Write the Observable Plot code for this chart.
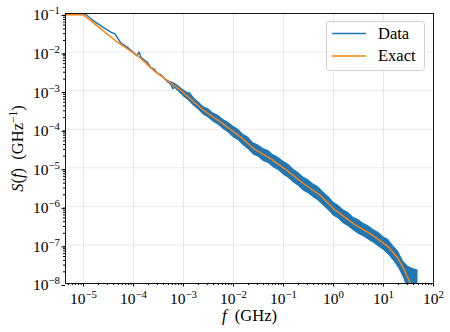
<!DOCTYPE html>
<html>
<head>
<meta charset="utf-8">
<script src="https://cdn.jsdelivr.net/npm/d3@7"></script>
<script src="https://cdn.jsdelivr.net/npm/@observablehq/plot@0.6"></script>
<style>
  html, body { margin: 0; padding: 0; background: #fff; }
</style>
</head>
<body>
<div id="chart"></div>
<script>
// ---- data ----
const seriesNames = ["Data", "Exact"];
const xLabel = "*f*\u2002(GHz)";
const yLabel = "*S*(*f*)\u2002(GHz^{−1})";
const xDomain = [4.37e-6, 100];
const yDomain = [1e-8, 1e-1];
const xTickExp = [-5, -4, -3, -2, -1, 0, 1, 2];
const yTickExp = [-8, -7, -6, -5, -4, -3, -2, -1];

// Exact spectrum (orange)
const exactF = [4.37e-6, 1.0e-5, 4.79e-5, 1.20e-4, 2.57e-4, 4.79e-4, 8.91e-4, 2.57e-3, 5.62e-3, 1.41e-2, 2.57e-2, 5.62e-2, 0.120, 0.257, 0.562, 1.0, 2.57, 5.62, 12.0, 19.1, 25.7, 33.9, 36.3];
const exactS = [0.0925, 0.0925, 0.0180, 8.13e-3, 3.31e-3, 1.82e-3, 1.0e-3, 3.02e-4, 1.51e-4, 6.17e-5, 3.09e-5, 1.70e-5, 8.32e-6, 3.80e-6, 1.86e-6, 8.71e-7, 3.47e-7, 1.91e-7, 9.33e-8, 4.68e-8, 2.34e-8, 1.05e-8, 8.9e-9];

// Measured data, sparse low-frequency part (blue line)
const dataF = [4.37e-6, 1.12e-5, 1.63e-5, 2.57e-5, 3.54e-5, 4.27e-5, 5.6e-5, 7.6e-5, 1.17e-4, 1.29e-4, 1.41e-4, 1.6e-4, 1.9e-4, 2.2e-4, 2.6e-4, 3.0e-4, 3.5e-4, 4.1e-4, 4.8e-4, 5.6e-4, 6.1e-4, 7.4e-4, 8.9e-4, 1.12e-3, 1.29e-3, 1.62e-3];
const dataS = [0.096, 0.094, 0.063, 0.0426, 0.0327, 0.0297, 0.0170, 0.0133, 0.0081, 0.0100, 0.0073, 0.0064, 0.0054, 0.0040, 0.0036, 0.0028, 0.0026, 0.0021, 0.0017, 1.45e-3, 1.12e-3, 1.35e-3, 1.0e-3, 6.9e-4, 8.9e-4, 6.2e-4];

// Measured data, dense high-frequency part: envelope of the noisy band
const bandF = [4.6e-4, 5.4e-4, 6.31e-4, 7.94e-4, 1.0e-3, 1.26e-3, 1.58e-3, 2.0e-3, 2.51e-3, 3.16e-3, 3.98e-3, 5.01e-3, 6.31e-3, 7.94e-3, 1.0e-2, 1.26e-2, 1.58e-2, 2.0e-2, 2.51e-2, 3.16e-2, 3.98e-2, 5.01e-2, 6.31e-2, 7.94e-2, 0.1, 0.126, 0.158, 0.2, 0.251, 0.316, 0.398, 0.501, 0.631, 0.794, 1.0, 1.26, 1.58, 2.0, 2.51, 3.16, 3.98, 5.01, 6.31, 7.94, 10, 12.6, 15.8, 20.0, 25.1, 31.6, 39.8, 49.0];
const bandHi = [1.90e-3, 1.75e-3, 1.62e-3, 1.349e-3, 1.047e-3, 8.71e-4, 6.457e-4, 5.248e-4, 3.89e-4, 3.388e-4, 2.63e-4, 2.291e-4, 1.778e-4, 1.514e-4, 1.202e-4, 1.0e-4, 7.413e-5, 6.166e-5, 4.467e-5, 3.89e-5, 3.162e-5, 2.818e-5, 2.188e-5, 1.862e-5, 1.479e-5, 1.23e-5, 9.333e-6, 7.586e-6, 5.754e-6, 4.898e-6, 3.802e-6, 3.236e-6, 2.344e-6, 1.82e-6, 1.288e-6, 1.072e-6, 8.128e-7, 6.918e-7, 5.248e-7, 4.571e-7, 3.631e-7, 3.162e-7, 2.512e-7, 2.138e-7, 1.622e-7, 1.38e-7, 9.55e-8, 6.761e-8, 3.802e-8, 2.754e-8, 2.399e-8, 2.239e-8];
const bandLo = [1.84e-3, 1.62e-3, 1.25e-3, 9.333e-4, 6.918e-4, 5.495e-4, 4.074e-4, 3.162e-4, 2.344e-4, 1.95e-4, 1.514e-4, 1.259e-4, 9.772e-5, 7.943e-5, 6.026e-5, 5.012e-5, 3.715e-5, 2.951e-5, 2.138e-5, 1.862e-5, 1.445e-5, 1.288e-5, 1.0e-5, 8.511e-6, 6.457e-6, 5.37e-6, 4.074e-6, 3.311e-6, 2.512e-6, 2.138e-6, 1.66e-6, 1.38e-6, 1.023e-6, 7.762e-7, 5.623e-7, 4.677e-7, 3.548e-7, 2.951e-7, 2.344e-7, 1.905e-7, 1.622e-7, 1.349e-7, 1.122e-7, 8.913e-8, 7.244e-8, 5.495e-8, 3.89e-8, 2.512e-8, 1.413e-8, 6.31e-9, 3.162e-9, 3.162e-9];

// ---- styling ----
const BLUE = "#1f77b4", ORANGE = "#ff7f0e";
const FONT = "'Liberation Serif', 'DejaVu Serif', serif";
const FS = 15.5;      // tick labels
const FS_L = 16.5;    // axis labels and legend

const exact = exactF.map((f, i) => ({f, s: exactS[i]}));
const data = dataF.map((f, i) => ({f, s: dataS[i]}));
const band = bandF.map((f, i) => ({f, lo: bandLo[i], hi: bandHi[i]}));

const xMajor = xTickExp.map(e => Math.pow(10, e));
const yMajor = yTickExp.map(e => Math.pow(10, e));
const minorsIn = (dom, eLo, eHi) => {
  const out = [];
  for (let e = eLo; e <= eHi; e++) for (let m = 2; m <= 9; m++) {
    const v = m * Math.pow(10, e);
    if (v >= dom[0] && v <= dom[1]) out.push(v);
  }
  return out;
};
const xMinor = minorsIn(xDomain, -6, 1);
const yMinor = minorsIn(yDomain, -8, -2);
const powFmt = d => { const e = Math.round(Math.log10(d)); return "10^{" + (e < 0 ? "−" + (-e) : e) + "}"; };

const chart = Plot.plot({
  width: 450,
  height: 332,
  marginTop: 13, marginRight: 17, marginBottom: 49, marginLeft: 65,
  style: {fontFamily: FONT, background: "white", color: "black"},
  x: {type: "log", domain: xDomain, axis: null, label: null},
  y: {type: "log", domain: yDomain, axis: null, label: null},
  marks: [
    Plot.gridX(xMajor, {stroke: "#b0b0b0", strokeOpacity: 0.35, strokeWidth: 0.8}),
    Plot.gridY(yMajor, {stroke: "#b0b0b0", strokeOpacity: 0.35, strokeWidth: 0.8}),
    Plot.areaY(band, {x: "f", y1: "lo", y2: "hi", fill: BLUE, fillOpacity: 1, clip: true}),
    Plot.line(data, {x: "f", y: "s", stroke: BLUE, strokeWidth: 1.5, clip: true}),
    Plot.line(exact, {x: "f", y: "s", stroke: ORANGE, strokeWidth: 1.5, clip: true}),
    Plot.frame({stroke: "black", strokeWidth: 0.9}),
    Plot.axisX(xMajor, {tickSize: 3.5, tickPadding: 6, tickFormat: powFmt, label: null}),
    Plot.axisX(xMinor, {tickSize: 2, tickFormat: () => "", label: null}),
    Plot.axisY(yMajor, {tickSize: 3.5, tickPadding: 2, tickFormat: powFmt, dy: 2, label: null}),
    Plot.axisY(yMinor, {tickSize: 2, tickFormat: () => "", label: null}),
    Plot.text([xLabel], {frameAnchor: "bottom", dy: 37, textAnchor: "middle", text: d => d, className: "axlabel"}),
    Plot.text([yLabel], {frameAnchor: "left", dx: -48, rotate: -90, textAnchor: "middle", text: d => d, className: "axlabel"})
  ]
});

// force the font sizes
chart.setAttribute("font-size", FS);
chart.style.fontSize = FS + "px";
chart.querySelectorAll("g[font-size]").forEach(g => g.setAttribute("font-size", FS));

// ---- rich text: *italic* and ^{superscript} ----
const NS = "http://www.w3.org/2000/svg";
function richify(el, size) {
  el.setAttribute("font-size", size);
  const s = el.textContent;
  if (!/[\^*]/.test(s)) return;
  while (el.firstChild) el.removeChild(el.firstChild);
  const re = /\*([^*]+)\*|\^\{([^}]+)\}|([^*^]+)/g;
  let m, raised = false;
  while ((m = re.exec(s))) {
    const t = document.createElementNS(NS, "tspan");
    if (m[2] !== undefined) {
      t.textContent = m[2];
      t.setAttribute("font-size", (size * 0.7) + "px");
      t.setAttribute("dy", "-6");
      raised = true;
    } else {
      t.textContent = m[1] !== undefined ? m[1] : m[3];
      if (m[1] !== undefined) t.setAttribute("font-style", "italic");
      if (raised) { t.setAttribute("dy", "6"); raised = false; }
    }
    el.appendChild(t);
  }
}
chart.querySelectorAll("text").forEach(el => {
  const isLabel = el.closest(".axlabel") !== null;
  richify(el, isLabel ? FS_L : FS);
});

// ---- legend ----
const lg = document.createElementNS(NS, "g");
lg.setAttribute("font-size", FS_L);
lg.setAttribute("text-anchor", "start");
lg.setAttribute("font-family", FONT);
const box = document.createElementNS(NS, "rect");
Object.entries({x: 326.5, y: 21.5, width: 98, height: 49, rx: 3, fill: "white", "fill-opacity": 0.8, stroke: "#cccccc", "stroke-width": 0.9})
  .forEach(([k, v]) => box.setAttribute(k, v));
lg.appendChild(box);
[BLUE, ORANGE].forEach((c, i) => {
  const yy = 33.5 + i * 22.5;
  const ln = document.createElementNS(NS, "line");
  Object.entries({x1: 332, x2: 366, y1: yy, y2: yy, stroke: c, "stroke-width": 1.5}).forEach(([k, v]) => ln.setAttribute(k, v));
  lg.appendChild(ln);
  const tx = document.createElementNS(NS, "text");
  Object.entries({x: 378, y: yy + 5, fill: "black", "text-anchor": "start"}).forEach(([k, v]) => tx.setAttribute(k, v));
  tx.textContent = seriesNames[i];
  lg.appendChild(tx);
});
chart.appendChild(lg);

document.getElementById("chart").appendChild(chart);
</script>
</body>
</html>
